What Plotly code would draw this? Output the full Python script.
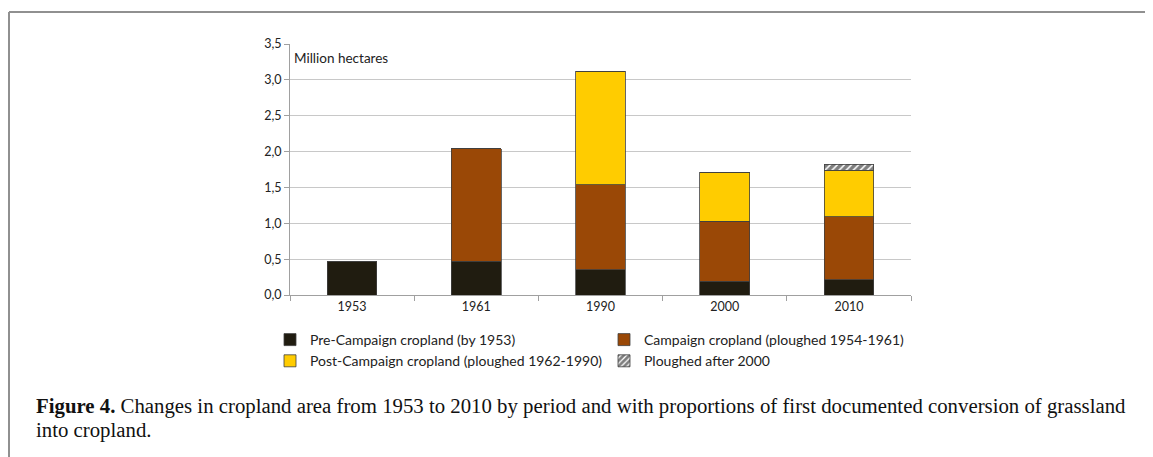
import plotly.graph_objects as go

years = ["1953", "1961", "1990", "2000", "2010"]
pre_campaign = [0.47, 0.47, 0.35, 0.19, 0.21]
campaign = [0, 1.57, 1.19, 0.84, 0.88]
post_campaign = [0, 0, 1.58, 0.68, 0.65]
after_2000 = [0, 0, 0, 0, 0.08]
y_ticks = [0, 0.5, 1.0, 1.5, 2.0, 2.5, 3.0, 3.5]

W, H = 1153, 457
OFF = 8  # page body margin
L, R, T, B = 290 - OFF, 1153 - 911 + OFF, 44 - OFF, 457 - 295 + OFF

line = dict(color="#404040", width=0.8)
fig = go.Figure()
fig.add_trace(go.Bar(x=years, y=pre_campaign, name="Pre-Campaign cropland (by 1953)",
                     legend="legend", legendgroup="a",
                     marker=dict(color="#201c10", line=line)))
fig.add_trace(go.Bar(x=years, y=campaign, name="Campaign cropland (ploughed 1954-1961)",
                     legend="legend2", legendgroup="b",
                     marker=dict(color="#9a4806", line=line)))
fig.add_trace(go.Bar(x=years, y=post_campaign, name="Post-Campaign cropland (ploughed 1962-1990)",
                     legend="legend", legendgroup="c",
                     marker=dict(color="#ffcc00", line=line)))
fig.add_trace(go.Bar(x=years, y=after_2000, name="Ploughed after 2000",
                     legend="legend2", legendgroup="d",
                     marker=dict(color="white", line=line,
                                 pattern=dict(shape="/", fgcolor="black", bgcolor="white",
                                              size=5, solidity=0.7))))

def px(x):
    x = x - OFF
    return (x - L) / (W - L - R)

def py(y):
    y = y - OFF
    return (H - B - y) / (H - T - B)

leg_common = dict(orientation="v", xanchor="left", yanchor="top", traceorder="normal",
                  font=dict(size=14, color="#222222"), itemwidth=30,
                  tracegroupgap=4, bgcolor="rgba(0,0,0,0)")

fig.update_layout(
    width=W, height=H,
    margin=dict(l=L, r=R, t=T, b=B),
    paper_bgcolor="white", plot_bgcolor="white",
    barmode="stack", bargap=0.6,
    separators=",.",
    font=dict(family="Lato, Open Sans, sans-serif", size=12.5, color="#222222"),
    showlegend=True,
    legend=dict(x=px(270), y=py(324), **leg_common),
    legend2=dict(x=px(604), y=py(324), **leg_common),
    xaxis=dict(showline=True, linecolor="#a0a0a0", linewidth=1, ticks="outside",
               tickson="boundaries", ticklen=5, tickcolor="#a0a0a0",
               tickfont=dict(size=12.5, color="#222222"), showgrid=False),
    yaxis=dict(range=[0, 3.5], tickvals=y_ticks, tickformat=".1f", showline=True,
               linecolor="#a0a0a0", linewidth=1, ticks="outside", ticklen=5,
               tickcolor="#a0a0a0", gridcolor="#c8c8c8", gridwidth=1,
               tickfont=dict(size=12.5, color="#222222"), zeroline=False),
    annotations=[
        dict(text="Million hectares", xref="paper", yref="paper", x=px(292), y=py(58),
             xanchor="left", yanchor="middle", showarrow=False,
             font=dict(size=13.5, color="#222222")),
        dict(text="<b>Figure 4.</b> Changes in cropland area from 1953 to 2010 by period and with proportions of first documented conversion of grassland",
             xref="paper", yref="paper", x=px(34), y=py(406), xanchor="left", yanchor="middle",
             align="left", showarrow=False,
             font=dict(family="Liberation Serif, serif", size=20.8, color="#111111")),
        dict(text="into cropland.",
             xref="paper", yref="paper", x=px(34), y=py(430), xanchor="left", yanchor="middle",
             align="left", showarrow=False,
             font=dict(family="Liberation Serif, serif", size=20.8, color="#111111")),
    ],
    shapes=[
        dict(type="line", xref="paper", yref="paper", x0=px(9), x1=px(1170), y0=py(12), y1=py(12),
             line=dict(color="#909090", width=2)),
        dict(type="line", xref="paper", yref="paper", x0=px(9), x1=px(9), y0=py(12), y1=py(480),
             line=dict(color="#909090", width=2)),
    ],
)

fig.write_html("out.html")
